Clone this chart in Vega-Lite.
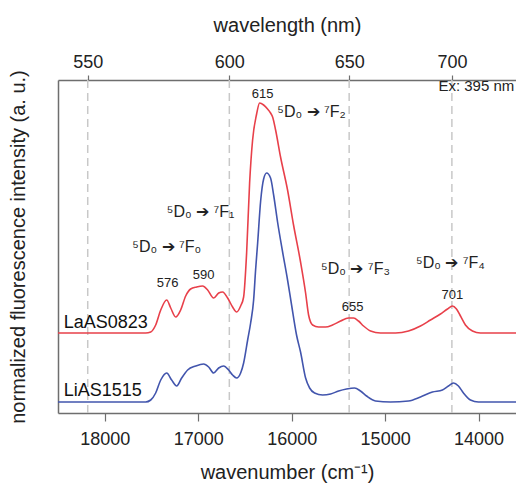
{
  "$schema": "https://vega.github.io/schema/vega-lite/v6.json",
  "autosize": "none",
  "width": 458,
  "height": 333,
  "padding": {"left": 58, "top": 80, "right": 0, "bottom": 73},
  "background": "white",
  "config": {
    "view": {"stroke": null},
    "font": "Liberation Sans",
    "axis": {"labelFont": "Liberation Sans", "titleFont": "Liberation Sans", "labelColor": "#222", "titleColor": "#222", "titleFontWeight": "normal", "domainColor": "#6e6e6e", "domainWidth": 1.5, "tickColor": "#6e6e6e", "tickWidth": 1.2, "grid": false}
  },
  "datasets": {
    "spectra": [
      {"wn": 18500, "v": 0.80, "s": "LaAS0823"},
      {"wn": 17562, "v": 0.80, "s": "LaAS0823"},
      {"wn": 17508, "v": 0.81, "s": "LaAS0823"},
      {"wn": 17455, "v": 0.88, "s": "LaAS0823"},
      {"wn": 17401, "v": 1.03, "s": "LaAS0823"},
      {"wn": 17337, "v": 1.13, "s": "LaAS0823"},
      {"wn": 17294, "v": 1.05, "s": "LaAS0823"},
      {"wn": 17241, "v": 0.96, "s": "LaAS0823"},
      {"wn": 17188, "v": 1.03, "s": "LaAS0823"},
      {"wn": 17134, "v": 1.17, "s": "LaAS0823"},
      {"wn": 17081, "v": 1.24, "s": "LaAS0823"},
      {"wn": 17017, "v": 1.26, "s": "LaAS0823"},
      {"wn": 16952, "v": 1.27, "s": "LaAS0823"},
      {"wn": 16899, "v": 1.23, "s": "LaAS0823"},
      {"wn": 16835, "v": 1.15, "s": "LaAS0823"},
      {"wn": 16781, "v": 1.20, "s": "LaAS0823"},
      {"wn": 16739, "v": 1.21, "s": "LaAS0823"},
      {"wn": 16685, "v": 1.15, "s": "LaAS0823"},
      {"wn": 16632, "v": 1.06, "s": "LaAS0823"},
      {"wn": 16589, "v": 1.01, "s": "LaAS0823"},
      {"wn": 16546, "v": 1.07, "s": "LaAS0823"},
      {"wn": 16514, "v": 1.16, "s": "LaAS0823"},
      {"wn": 16482, "v": 1.60, "s": "LaAS0823"},
      {"wn": 16450, "v": 2.30, "s": "LaAS0823"},
      {"wn": 16418, "v": 2.73, "s": "LaAS0823"},
      {"wn": 16375, "v": 2.99, "s": "LaAS0823"},
      {"wn": 16343, "v": 3.10, "s": "LaAS0823"},
      {"wn": 16300, "v": 3.08, "s": "LaAS0823"},
      {"wn": 16258, "v": 3.04, "s": "LaAS0823"},
      {"wn": 16226, "v": 3.00, "s": "LaAS0823"},
      {"wn": 16204, "v": 2.96, "s": "LaAS0823"},
      {"wn": 16172, "v": 2.83, "s": "LaAS0823"},
      {"wn": 16119, "v": 2.56, "s": "LaAS0823"},
      {"wn": 16044, "v": 2.23, "s": "LaAS0823"},
      {"wn": 15980, "v": 1.88, "s": "LaAS0823"},
      {"wn": 15905, "v": 1.51, "s": "LaAS0823"},
      {"wn": 15851, "v": 1.20, "s": "LaAS0823"},
      {"wn": 15819, "v": 0.98, "s": "LaAS0823"},
      {"wn": 15776, "v": 0.88, "s": "LaAS0823"},
      {"wn": 15712, "v": 0.86, "s": "LaAS0823"},
      {"wn": 15638, "v": 0.86, "s": "LaAS0823"},
      {"wn": 15563, "v": 0.88, "s": "LaAS0823"},
      {"wn": 15477, "v": 0.92, "s": "LaAS0823"},
      {"wn": 15392, "v": 0.95, "s": "LaAS0823"},
      {"wn": 15338, "v": 0.95, "s": "LaAS0823"},
      {"wn": 15285, "v": 0.92, "s": "LaAS0823"},
      {"wn": 15231, "v": 0.87, "s": "LaAS0823"},
      {"wn": 15156, "v": 0.82, "s": "LaAS0823"},
      {"wn": 15050, "v": 0.80, "s": "LaAS0823"},
      {"wn": 14889, "v": 0.80, "s": "LaAS0823"},
      {"wn": 14750, "v": 0.82, "s": "LaAS0823"},
      {"wn": 14622, "v": 0.87, "s": "LaAS0823"},
      {"wn": 14515, "v": 0.93, "s": "LaAS0823"},
      {"wn": 14408, "v": 0.99, "s": "LaAS0823"},
      {"wn": 14333, "v": 1.04, "s": "LaAS0823"},
      {"wn": 14280, "v": 1.07, "s": "LaAS0823"},
      {"wn": 14237, "v": 1.04, "s": "LaAS0823"},
      {"wn": 14194, "v": 0.97, "s": "LaAS0823"},
      {"wn": 14141, "v": 0.88, "s": "LaAS0823"},
      {"wn": 14066, "v": 0.82, "s": "LaAS0823"},
      {"wn": 13981, "v": 0.80, "s": "LaAS0823"},
      {"wn": 13600, "v": 0.80, "s": "LaAS0823"},

      {"wn": 18500, "v": 0.11, "s": "LiAS1515"},
      {"wn": 17562, "v": 0.11, "s": "LiAS1515"},
      {"wn": 17508, "v": 0.13, "s": "LiAS1515"},
      {"wn": 17455, "v": 0.20, "s": "LiAS1515"},
      {"wn": 17401, "v": 0.33, "s": "LiAS1515"},
      {"wn": 17337, "v": 0.40, "s": "LiAS1515"},
      {"wn": 17284, "v": 0.33, "s": "LiAS1515"},
      {"wn": 17230, "v": 0.27, "s": "LiAS1515"},
      {"wn": 17177, "v": 0.35, "s": "LiAS1515"},
      {"wn": 17113, "v": 0.43, "s": "LiAS1515"},
      {"wn": 17027, "v": 0.47, "s": "LiAS1515"},
      {"wn": 16942, "v": 0.49, "s": "LiAS1515"},
      {"wn": 16888, "v": 0.46, "s": "LiAS1515"},
      {"wn": 16835, "v": 0.40, "s": "LiAS1515"},
      {"wn": 16781, "v": 0.45, "s": "LiAS1515"},
      {"wn": 16728, "v": 0.47, "s": "LiAS1515"},
      {"wn": 16674, "v": 0.43, "s": "LiAS1515"},
      {"wn": 16632, "v": 0.38, "s": "LiAS1515"},
      {"wn": 16589, "v": 0.35, "s": "LiAS1515"},
      {"wn": 16546, "v": 0.40, "s": "LiAS1515"},
      {"wn": 16514, "v": 0.50, "s": "LiAS1515"},
      {"wn": 16471, "v": 0.73, "s": "LiAS1515"},
      {"wn": 16439, "v": 0.90, "s": "LiAS1515"},
      {"wn": 16407, "v": 1.13, "s": "LiAS1515"},
      {"wn": 16386, "v": 1.43, "s": "LiAS1515"},
      {"wn": 16364, "v": 1.70, "s": "LiAS1515"},
      {"wn": 16332, "v": 2.12, "s": "LiAS1515"},
      {"wn": 16300, "v": 2.34, "s": "LiAS1515"},
      {"wn": 16268, "v": 2.40, "s": "LiAS1515"},
      {"wn": 16226, "v": 2.35, "s": "LiAS1515"},
      {"wn": 16193, "v": 2.18, "s": "LiAS1515"},
      {"wn": 16151, "v": 1.91, "s": "LiAS1515"},
      {"wn": 16097, "v": 1.61, "s": "LiAS1515"},
      {"wn": 16044, "v": 1.33, "s": "LiAS1515"},
      {"wn": 16001, "v": 1.08, "s": "LiAS1515"},
      {"wn": 15948, "v": 0.78, "s": "LiAS1515"},
      {"wn": 15905, "v": 0.61, "s": "LiAS1515"},
      {"wn": 15851, "v": 0.35, "s": "LiAS1515"},
      {"wn": 15808, "v": 0.25, "s": "LiAS1515"},
      {"wn": 15755, "v": 0.20, "s": "LiAS1515"},
      {"wn": 15669, "v": 0.18, "s": "LiAS1515"},
      {"wn": 15584, "v": 0.19, "s": "LiAS1515"},
      {"wn": 15498, "v": 0.22, "s": "LiAS1515"},
      {"wn": 15413, "v": 0.24, "s": "LiAS1515"},
      {"wn": 15328, "v": 0.25, "s": "LiAS1515"},
      {"wn": 15264, "v": 0.22, "s": "LiAS1515"},
      {"wn": 15199, "v": 0.17, "s": "LiAS1515"},
      {"wn": 15103, "v": 0.12, "s": "LiAS1515"},
      {"wn": 14943, "v": 0.11, "s": "LiAS1515"},
      {"wn": 14750, "v": 0.12, "s": "LiAS1515"},
      {"wn": 14622, "v": 0.16, "s": "LiAS1515"},
      {"wn": 14494, "v": 0.21, "s": "LiAS1515"},
      {"wn": 14387, "v": 0.23, "s": "LiAS1515"},
      {"wn": 14323, "v": 0.27, "s": "LiAS1515"},
      {"wn": 14269, "v": 0.30, "s": "LiAS1515"},
      {"wn": 14216, "v": 0.27, "s": "LiAS1515"},
      {"wn": 14162, "v": 0.20, "s": "LiAS1515"},
      {"wn": 14087, "v": 0.13, "s": "LiAS1515"},
      {"wn": 14002, "v": 0.11, "s": "LiAS1515"},
      {"wn": 13600, "v": 0.11, "s": "LiAS1515"}
    ],
    "lines": [
      {"wn": 18182, "nm": 550},
      {"wn": 16667, "nm": 600},
      {"wn": 15385, "nm": 650},
      {"wn": 14286, "nm": 700}
    ],
    "peaks": [
      {"wn": 17327, "v": 1.30, "t": "576"},
      {"wn": 16942, "v": 1.38, "t": "590"},
      {"wn": 16311, "v": 3.19, "t": "615"},
      {"wn": 15349, "v": 1.06, "t": "655"},
      {"wn": 14280, "v": 1.18, "t": "701"}
    ],
    "trans": [
      {"wn": 15787, "v": 3.01, "t": "⁵D₀ ➔ ⁷F₂"},
      {"wn": 16974, "v": 2.01, "t": "⁵D₀ ➔ ⁷F₁"},
      {"wn": 17337, "v": 1.66, "t": "⁵D₀ ➔ ⁷F₀"},
      {"wn": 15317, "v": 1.44, "t": "⁵D₀ ➔ ⁷F₃"},
      {"wn": 14301, "v": 1.50, "t": "⁵D₀ ➔ ⁷F₄"}
    ],
    "names": [
      {"wn": 18438, "v": 0.90, "t": "LaAS0823"},
      {"wn": 18438, "v": 0.22, "t": "LiAS1515"}
    ],
    "notes": [
      {"wn": 14430, "v": 3.27, "t": "Ex: 395 nm"}
    ]
  },
  "layer": [
    {
      "data": {"name": "lines"},
      "mark": {"type": "rule", "color": "#c8c8c8", "strokeWidth": 1.5, "strokeDash": [8, 5]},
      "encoding": {
        "x": {"field": "wn", "type": "quantitative", "scale": {"domain": [18500, 13600], "nice": false, "zero": false},
          "axis": {"orient": "top", "values": [18181.818, 16666.667, 15384.615, 14285.714], "labelExpr": "format(1e7 / datum.value, '.0f')", "title": "wavelength (nm)", "titleFontSize": 20, "labelFontSize": 18, "tickSize": 5, "labelPadding": 4, "titlePadding": 18, "domain": true}}
      }
    },
    {
      "data": {"name": "spectra"},
      "mark": {"type": "line", "strokeWidth": 1.6, "interpolate": "monotone", "clip": true},
      "encoding": {
        "x": {"field": "wn", "type": "quantitative", "scale": {"domain": [18500, 13600], "nice": false, "zero": false},
          "axis": {"orient": "bottom", "values": [18000, 17000, 16000, 15000, 14000], "format": "d", "title": "wavenumber (cm⁻¹)", "titleFontSize": 20, "labelFontSize": 18, "tickSize": 8, "labelPadding": 9, "titlePadding": 14, "domain": true}},
        "y": {"field": "v", "type": "quantitative", "scale": {"domain": [0, 3.33], "nice": false, "zero": false},
          "axis": {"title": "normalized fluorescence intensity (a. u.)", "titleFontSize": 20, "labels": false, "ticks": false, "domain": true, "titlePadding": 30}},
        "color": {"field": "s", "type": "nominal", "scale": {"domain": ["LaAS0823", "LiAS1515"], "range": ["#e8404a", "#4255ad"]}, "legend": null}
      }
    },
    {
      "data": {"name": "peaks"},
      "mark": {"type": "text", "fontSize": 13, "color": "#222", "align": "center", "baseline": "middle"},
      "encoding": {
        "x": {"field": "wn", "type": "quantitative", "axis": null},
        "y": {"field": "v", "type": "quantitative", "axis": null},
        "text": {"field": "t"}
      }
    },
    {
      "data": {"name": "trans"},
      "mark": {"type": "text", "fontSize": 16, "color": "#222", "align": "center", "baseline": "middle"},
      "encoding": {
        "x": {"field": "wn", "type": "quantitative", "axis": null},
        "y": {"field": "v", "type": "quantitative", "axis": null},
        "text": {"field": "t"}
      }
    },
    {
      "data": {"name": "names"},
      "mark": {"type": "text", "fontSize": 18, "color": "#111", "align": "left", "baseline": "middle"},
      "encoding": {
        "x": {"field": "wn", "type": "quantitative", "axis": null},
        "y": {"field": "v", "type": "quantitative", "axis": null},
        "text": {"field": "t"}
      }
    },
    {
      "data": {"name": "notes"},
      "mark": {"type": "text", "fontSize": 15, "color": "#222", "align": "left", "baseline": "middle"},
      "encoding": {
        "x": {"field": "wn", "type": "quantitative", "axis": null},
        "y": {"field": "v", "type": "quantitative", "axis": null},
        "text": {"field": "t"}
      }
    }
  ],
  "resolve": {"axis": {"x": "independent", "y": "independent"}}
}
